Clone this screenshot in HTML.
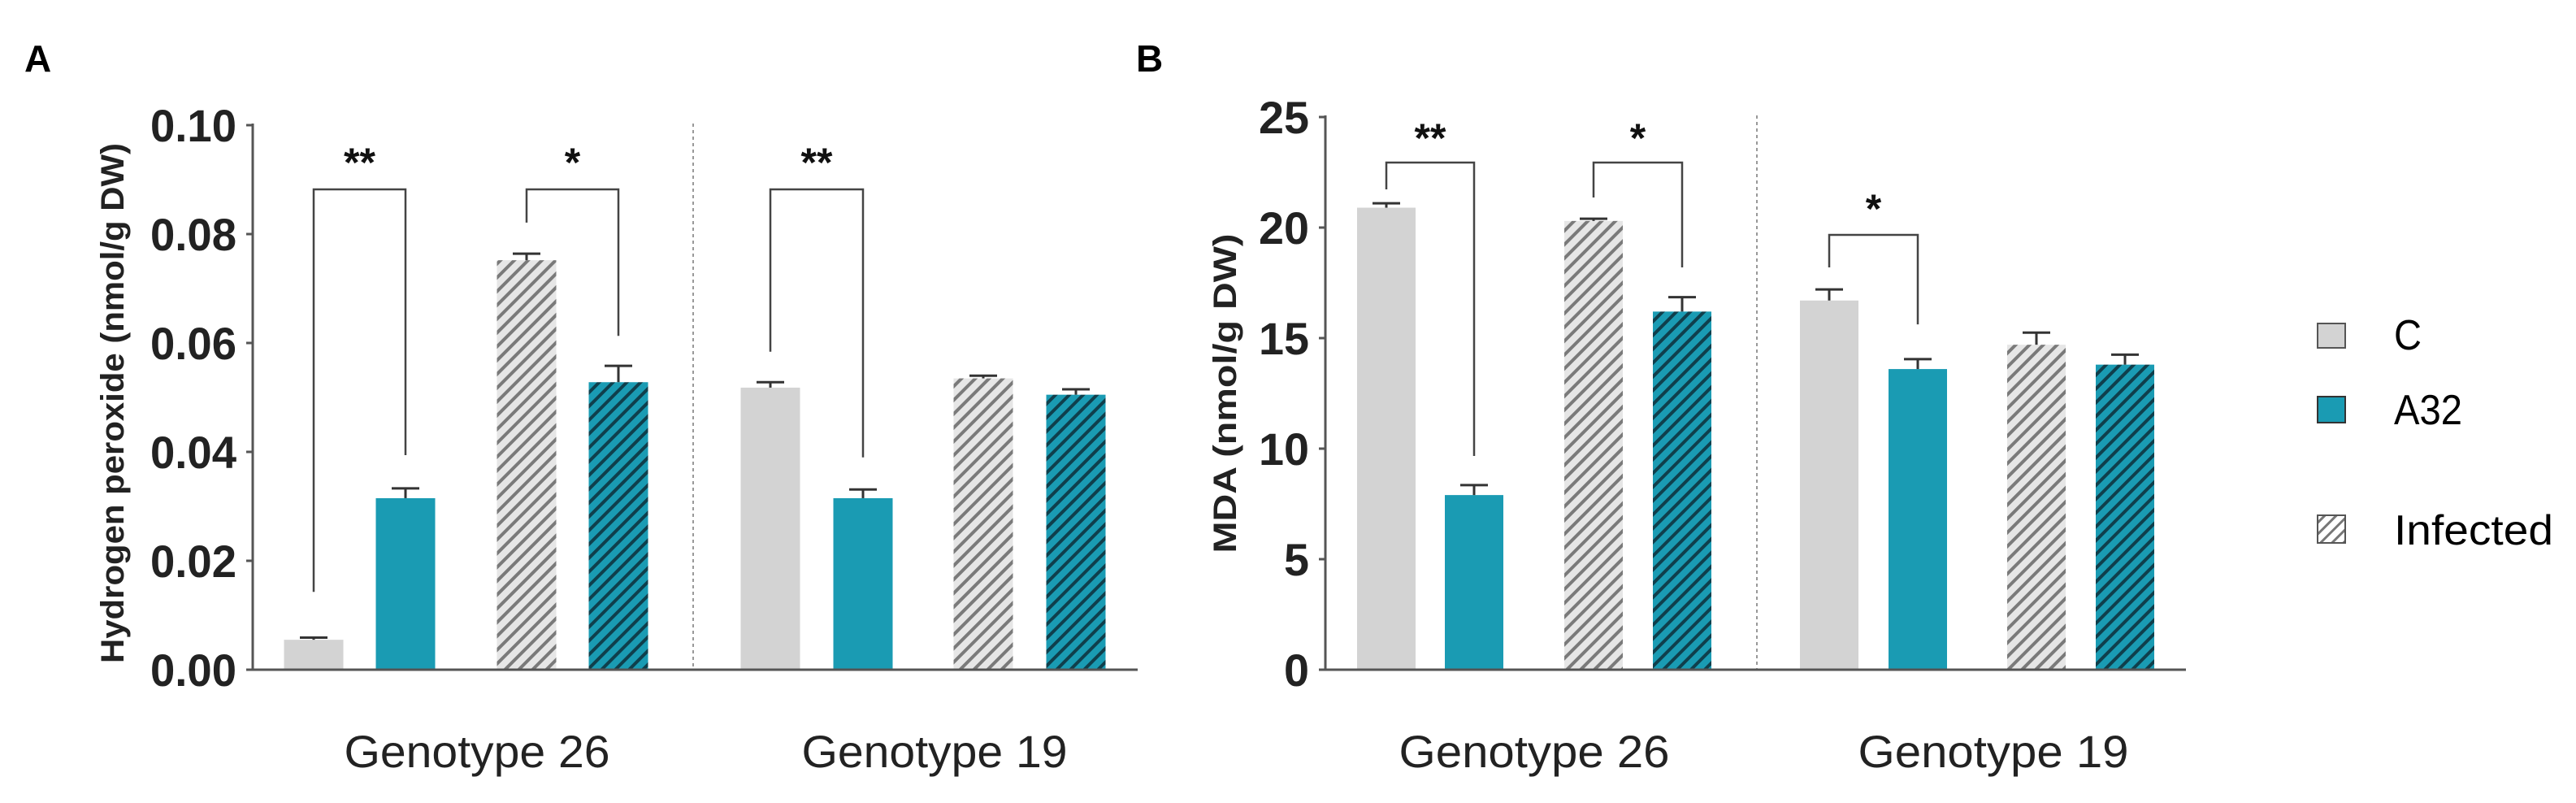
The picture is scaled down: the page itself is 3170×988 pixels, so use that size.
<!DOCTYPE html>
<html><head><meta charset="utf-8">
<style>
html,body{margin:0;padding:0;background:#fff;}
svg{display:block;font-family:"Liberation Sans Narrow","Liberation Sans",sans-serif;}
</style></head>
<body>
<svg id="fig" width="3170" height="988" viewBox="0 0 3170 988" xmlns="http://www.w3.org/2000/svg">
<defs>
<pattern id="hatchGrey" patternUnits="userSpaceOnUse" width="12" height="12" patternTransform="rotate(45)">
<rect width="12" height="12" fill="#e6e6e6"/><rect width="4" height="12" fill="#7a7a7a"/>
</pattern>
<pattern id="hatchTeal" patternUnits="userSpaceOnUse" width="12" height="12" patternTransform="rotate(45)">
<rect width="12" height="12" fill="#1a9bb3"/><rect width="4" height="12" fill="#0f3f4c"/>
</pattern>
<pattern id="hatchLeg" patternUnits="userSpaceOnUse" width="10" height="10" patternTransform="rotate(45)">
<rect width="10" height="10" fill="#fff"/><rect width="3" height="10" fill="#777"/>
</pattern>
</defs>
<text x="30" y="88" font-size="46" font-weight="bold" font-family="Liberation Sans, sans-serif">A</text>
<text x="1398" y="88" font-size="46" font-weight="bold" font-family="Liberation Sans, sans-serif">B</text>
<g>
<rect x="2852" y="398" width="34" height="30" fill="#d3d3d3" stroke="#555" stroke-width="2"/>
<text x="2946" y="430" font-size="52" textLength="34" lengthAdjust="spacingAndGlyphs">C</text>
<rect x="2852" y="488" width="34" height="32" fill="#1a9bb3" stroke="#333" stroke-width="2"/>
<text x="2946" y="522" font-size="52" textLength="84" lengthAdjust="spacingAndGlyphs">A32</text>
<rect x="2852" y="634" width="34" height="34" fill="url(#hatchLeg)" stroke="#555" stroke-width="2"/>
<text x="2946" y="670" font-size="52" textLength="196" lengthAdjust="spacingAndGlyphs">Infected</text>
</g>
</svg>
<script>
// Panel A data
const categories = ["C", "A32", "C Infected", "A32 Infected"];
const groups = ["Genotype 26", "Genotype 19"];
const valuesA = [0.0055, 0.0315, 0.0752, 0.0528, 0.0518, 0.0315, 0.0535, 0.0505];
const errorsA = [0.0004, 0.0018, 0.0012, 0.0030, 0.0010, 0.0016, 0.0005, 0.0010];
const ticksA = [0, 0.02, 0.04, 0.06, 0.08, 0.10];
const tickLabelsA = ["0.00", "0.02", "0.04", "0.06", "0.08", "0.10"];
const bracketsA = [[0, 1, 0.0882, 0.0143, 0.0394, "**", 0.0939],[2, 3, 0.0882, 0.0821, 0.0613, "*", 0.0939],[4, 5, 0.0882, 0.0584, 0.039, "**", 0.0939]];
// Panel B data
const valuesB = [20.9, 7.9, 20.3, 16.2, 16.7, 13.6, 14.7, 13.8];
const errorsB = [0.2, 0.45, 0.1, 0.65, 0.5, 0.45, 0.55, 0.45];
const ticksB = [0, 5, 10, 15, 20, 25];
const tickLabelsB = ["0", "5", "10", "15", "20", "25"];
const bracketsB = [[0, 1, 22.94, 21.73, 9.67, "**", 24.23],[2, 3, 22.94, 21.36, 18.2, "*", 24.23],[4, 5, 19.67, 18.2, 15.62, "*", 21.03]];

const NS = "http://www.w3.org/2000/svg";
const svg = document.getElementById("fig");
function mk(tag, attrs, parent) {
  const e = document.createElementNS(NS, tag);
  for (const k in attrs) e.setAttribute(k, attrs[k]);
  (parent || svg).appendChild(e);
  return e;
}
const fills = ["#d3d3d3", "#1a9bb3", "url(#hatchGrey)", "url(#hatchTeal)"];

function panel(p) {
  const g = mk("g", {});
  
  
  const y = v => p.y0 - (v / p.ymax) * (p.y0 - p.yTop);
  const x = i => p.centers[i];
  const ya = mk("line", {x1: p.ax, x2: p.ax, y1: p.yTop - 2, y2: p.y0, stroke: "#555", "stroke-width": 3}, g);
  
  
  p.ticks.forEach((t, k) => {
    mk("line", {x1: p.ax - 8, x2: p.ax, y1: y(t), y2: y(t), stroke: "#555", "stroke-width": 3}, g);
    const lab = p.tickLabels[k];
    const tl = mk("text", {x: p.ax - 20, y: y(t) + 20, "text-anchor": "end", "font-size": 56, "font-weight": "bold", fill: "#222", textLength: lab.length * p.charW, lengthAdjust: "spacingAndGlyphs"}, g);
    tl.textContent = lab;
    
    
  });
  mk("line", {x1: p.divX, x2: p.divX, y1: p.yTop - 2, y2: p.y0, stroke: "#999", "stroke-width": 2, "stroke-dasharray": "4,4"}, g);
  p.values.forEach((v, i) => {
    const b = mk("rect", {x: x(i) - p.bw / 2, y: y(v), width: p.bw, height: p.y0 - y(v), fill: fills[i % 4]}, g);
    
    
    const et = y(v + p.errors[i]);
    mk("line", {x1: x(i), x2: x(i), y1: y(v), y2: et, stroke: "#333", "stroke-width": 3}, g);
    const cap = mk("line", {x1: x(i) - 17, x2: x(i) + 17, y1: et, y2: et, stroke: "#333", "stroke-width": 3}, g);
    
    
  });
  const xa = mk("line", {x1: p.ax, x2: p.axEnd, y1: p.y0, y2: p.y0, stroke: "#555", "stroke-width": 3}, g);
  
  
  p.brackets.forEach(br => {
    const [i, j, top, l, r, lab, sy] = br;
    const path = mk("path", {d: `M${x(i)},${y(l)} V${y(top)} H${x(j)} V${y(r)}`, fill: "none", stroke: "#444", "stroke-width": 2.5}, g);
    
    
    const st = mk("text", {x: (x(i) + x(j)) / 2, y: y(sy) + 22, "text-anchor": "middle", "font-size": 50, "font-weight": "bold", fill: "#111", "font-family": "Liberation Sans, sans-serif"}, g);
    st.textContent = lab;
    
    
  });
  groups.forEach((gn, k) => {
    const t = mk("text", {x: p.groupX[k], y: 944, "text-anchor": "middle", "font-size": 56, fill: "#222", textLength: p.groupW, lengthAdjust: "spacingAndGlyphs"}, g);
    t.textContent = gn;
    
    
  });
  const yt = mk("text", {x: 0, y: 0, "text-anchor": "middle", "font-size": 40, "font-weight": "bold", fill: "#222", "font-family": "Liberation Sans, sans-serif", transform: `translate(${p.titleX},${p.titleY}) rotate(-90)`, textLength: p.titleW, lengthAdjust: "spacingAndGlyphs"}, g);
  yt.textContent = p.title;
  
  
}

panel({name: "panel-a-hydrogen-peroxide", ax: 311, axEnd: 1400, y0: 824, yTop: 154, ymax: 0.10,
  centers: [386, 499, 648, 761, 948, 1062, 1210, 1324], bw: 73, divX: 853, charW: 26.5,
  values: valuesA, errors: errorsA, ticks: ticksA, tickLabels: tickLabelsA, brackets: bracketsA,
  groupX: [587, 1150], groupW: 327, title: "Hydrogen peroxide (nmol/g DW)", titleX: 152, titleY: 496, titleW: 640});
panel({name: "panel-b-mda", ax: 1631, axEnd: 2690, y0: 824, yTop: 144, ymax: 25,
  centers: [1706, 1814, 1961, 2070, 2251, 2360, 2506, 2615], bw: 72, divX: 2162, charW: 31,
  values: valuesB, errors: errorsB, ticks: ticksB, tickLabels: tickLabelsB, brackets: bracketsB,
  groupX: [1888, 2453], groupW: 333, title: "MDA (nmol/g DW)", titleX: 1521, titleY: 484, titleW: 393});
</script>
</body></html>
